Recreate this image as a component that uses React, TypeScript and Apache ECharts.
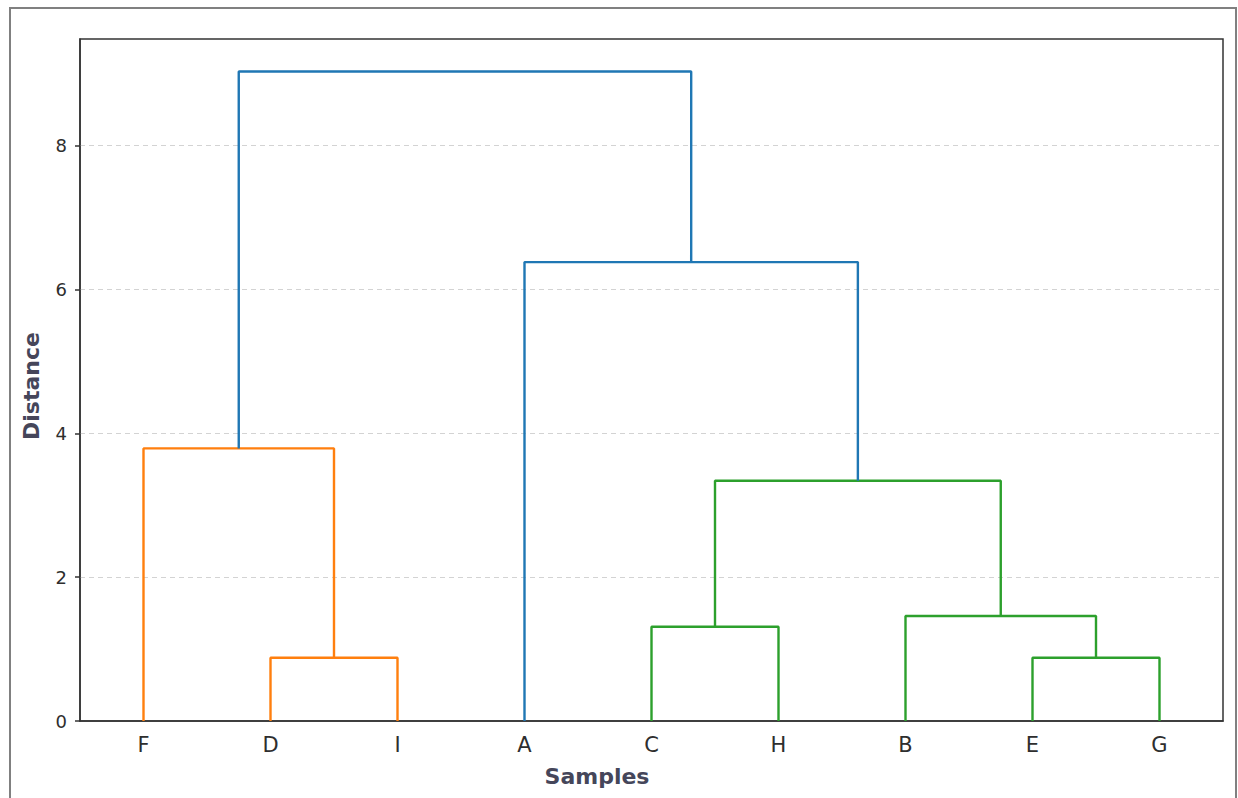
import React, { useEffect, useRef } from "react";
import * as echarts from "echarts";

// Leaves in display order (dendrogram order)
const leafLabels = ["F", "D", "I", "A", "C", "H", "B", "E", "G"];
// Linkage (scipy-style numbering: leaves 0..8, new clusters 9..16)
const mergeLeft = [1, 7, 4, 6, 11, 0, 3, 14];
const mergeRight = [2, 8, 5, 10, 12, 9, 13, 15];
const mergeHeight = [0.88, 0.88, 1.31, 1.46, 3.34, 3.79, 6.38, 9.03];
const mergeColor = ["C1", "C2", "C2", "C2", "C2", "C1", "C0", "C0"];
const yTicks = [0, 2, 4, 6, 8];

const palette: Record<string, string> = {
  C0: "#1f77b4",
  C1: "#ff7f0e",
  C2: "#2ca02c",
};

const FONT = "DejaVu Sans";

function buildLinks() {
  const n = leafLabels.length;
  const xs: number[] = leafLabels.map((_, i) => 5 + 10 * i);
  const hs: number[] = leafLabels.map(() => 0);
  const links: { data: number[][]; color: string }[] = [];
  mergeLeft.forEach((l, k) => {
    const r = mergeRight[k];
    const h = mergeHeight[k];
    links.push({
      data: [
        [xs[l], hs[l]],
        [xs[l], h],
        [xs[r], h],
        [xs[r], hs[r]],
      ],
      color: palette[mergeColor[k]],
    });
    xs[n + k] = (xs[l] + xs[r]) / 2;
    hs[n + k] = h;
  });
  return links;
}

export default function App() {
  const ref = useRef<HTMLDivElement>(null);
  useEffect(() => {
    document.body.style.margin = "0";
    if (!ref.current) return;
    const chart = echarts.init(ref.current, null, { renderer: "svg" });
    const links = buildLinks();
    const yMax = Math.max(...mergeHeight) * 1.05;
    chart.setOption({
      animation: false,
      backgroundColor: "#ffffff",
      grid: {
        left: 80,
        top: 39,
        right: 15,
        bottom: 77,
        show: true,
        borderColor: "#333333",
        borderWidth: 1.5,
      },
      xAxis: [
        {
          type: "category",
          data: leafLabels,
          boundaryGap: true,
          axisLine: { show: true, lineStyle: { color: "#333333", width: 1.5 } },
          axisTick: { show: false },
          splitLine: { show: false },
          axisLabel: {
            fontFamily: FONT,
            fontSize: 21,
            color: "#2e2e2e",
            margin: 13,
          },
        },
        {
          type: "value",
          min: 0,
          max: leafLabels.length * 10,
          show: false,
        },
      ],
      yAxis: {
        type: "value",
        min: 0,
        max: yMax,
        axisLine: { show: true, lineStyle: { color: "#333333", width: 1.5 } },
        axisTick: {
          show: true,
          length: 5,
          customValues: yTicks,
          lineStyle: { color: "#333333", width: 1.5 },
        },
        axisLabel: {
          customValues: yTicks,
          fontFamily: FONT,
          fontSize: 18,
          color: "#2e2e2e",
          margin: 13,
        },
        splitLine: {
          show: true,
          showMinLine: false,
          showMaxLine: true,
          lineStyle: { color: "#d3d3d3", type: [5, 4], width: 1 },
        },
      },
      graphic: [
        {
          type: "rect",
          shape: { x: 10, y: 8, width: 1226, height: 820 },
          style: { fill: "none", stroke: "#808080", lineWidth: 2 },
          silent: true,
        },
        {
          type: "text",
          x: 597,
          y: 776,
          style: {
            text: "Samples",
            font: `bold 22px "${FONT}"`,
            fill: "#45465a",
            align: "center",
            verticalAlign: "middle",
          },
        },
        {
          type: "text",
          x: 31,
          y: 386,
          rotation: Math.PI / 2,
          style: {
            text: "Distance",
            font: `bold 22px "${FONT}"`,
            fill: "#45465a",
            align: "center",
            verticalAlign: "middle",
          },
        },
      ],
      series: links.map((lk) => ({
        type: "line",
        xAxisIndex: 1,
        data: lk.data,
        showSymbol: false,
        symbol: "none",
        lineStyle: { color: lk.color, width: 2.4 },
        z: 5,
      })),
    });
    return () => chart.dispose();
  }, []);
  return <div ref={ref} style={{ width: 1238, height: 798 }} />;
}
